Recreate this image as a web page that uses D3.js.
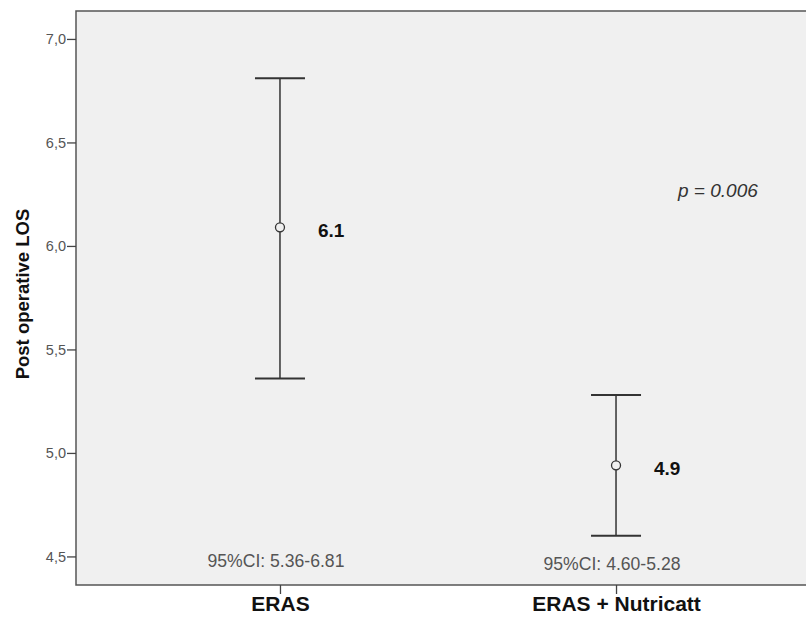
<!DOCTYPE html>
<html>
<head>
<meta charset="utf-8">
<script src="https://cdn.jsdelivr.net/npm/d3@7"></script>
<style>
  body { margin: 0; background: #fff; }
  svg { display: block; font-family: Arial, "Liberation Sans", sans-serif; }
</style>
</head>
<body>
<svg id="chart" width="806" height="619"></svg>
<script>
const groups = ["ERAS", "ERAS + Nutricatt"];
const means = [6.09, 4.94];
const meanLabels = ["6.1", "4.9"];
const ciLow = [5.36, 4.60];
const ciHigh = [6.81, 5.28];
const ciLabels = ["95%CI: 5.36-6.81", "95%CI: 4.60-5.28"];
const yTicks = [4.5, 5.0, 5.5, 6.0, 6.5, 7.0];

const svg = d3.select("#chart");
const margin = { left: 76, top: 11, right: -14, bottom: 34 };
const width = +svg.attr("width");
const height = +svg.attr("height");
const plotW = width - margin.left - margin.right;
const plotH = height - margin.top - margin.bottom;

const x = d3.scalePoint().domain(groups).range([0, plotW]).padding(0.607);
const y = d3.scaleLinear().domain([4.362, 7.135]).range([plotH, 0]);

const g = svg.append("g").attr("transform", `translate(${margin.left},${margin.top})`);

g.append("rect")
  .attr("width", plotW).attr("height", plotH)
  .attr("fill", "#f0f0f0")
  .attr("stroke", "#555").attr("stroke-width", 1.5);

// y axis
const yAxis = g.append("g")
  .call(d3.axisLeft(y).tickValues(yTicks).tickSize(9).tickFormat(d => d3.format(".1f")(d).replace(".", ",")));
yAxis.select(".domain").remove();
yAxis.selectAll(".tick line").attr("stroke", "#444").attr("stroke-width", 1.3);
yAxis.selectAll(".tick text").attr("fill", "#555").attr("font-size", 14.5).attr("x", -10);

// x axis
const xAxis = g.append("g").attr("transform", `translate(0,${plotH})`)
  .call(d3.axisBottom(x).tickSize(9).tickPadding(2));
xAxis.select(".domain").remove();
xAxis.selectAll(".tick line").attr("stroke", "#444").attr("stroke-width", 1.3);
xAxis.selectAll(".tick text").attr("fill", "#111").attr("font-size", 21).attr("font-weight", "bold");

svg.append("text")
  .attr("transform", `translate(29,${margin.top + 283}) rotate(-90)`)
  .attr("text-anchor", "middle")
  .attr("font-size", 18.5).attr("font-weight", "bold").attr("fill", "#111")
  .text("Post operative LOS");

const data = groups.map((k, i) => ({ k, m: means[i], lo: ciLow[i], hi: ciHigh[i], ml: meanLabels[i], cl: ciLabels[i] }));
const cap = 25;

const bars = g.selectAll(".bar").data(data).join("g").attr("class", "bar");
bars.append("line")
  .attr("x1", d => x(d.k)).attr("x2", d => x(d.k))
  .attr("y1", d => y(d.hi)).attr("y2", d => y(d.lo))
  .attr("stroke", "#333").attr("stroke-width", 1.5);
bars.selectAll(".cap").data(d => [[d.k, d.hi], [d.k, d.lo]]).join("line")
  .attr("x1", d => x(d[0]) - cap).attr("x2", d => x(d[0]) + cap)
  .attr("y1", d => y(d[1])).attr("y2", d => y(d[1]))
  .attr("stroke", "#333").attr("stroke-width", 2);
bars.append("circle")
  .attr("cx", d => x(d.k)).attr("cy", d => y(d.m)).attr("r", 4.5)
  .attr("fill", "#f0f0f0").attr("stroke", "#333").attr("stroke-width", 1.3);
bars.append("text")
  .attr("x", d => x(d.k) + 38).attr("y", d => y(d.m) + 10)
  .attr("font-size", 19).attr("font-weight", "bold").attr("fill", "#111")
  .text(d => d.ml);
bars.append("text")
  .attr("x", d => x(d.k) - 4).attr("y", (d, i) => plotH - 18 + i * 3)
  .attr("text-anchor", "middle")
  .attr("font-size", 17.6).attr("fill", "#555")
  .text(d => d.cl);

g.append("text")
  .attr("x", x(groups[1]) + 62).attr("y", y(6.24) + 1)
  .attr("font-size", 19).attr("font-style", "italic").attr("fill", "#333")
  .text("p = 0.006");
</script>
</body>
</html>
